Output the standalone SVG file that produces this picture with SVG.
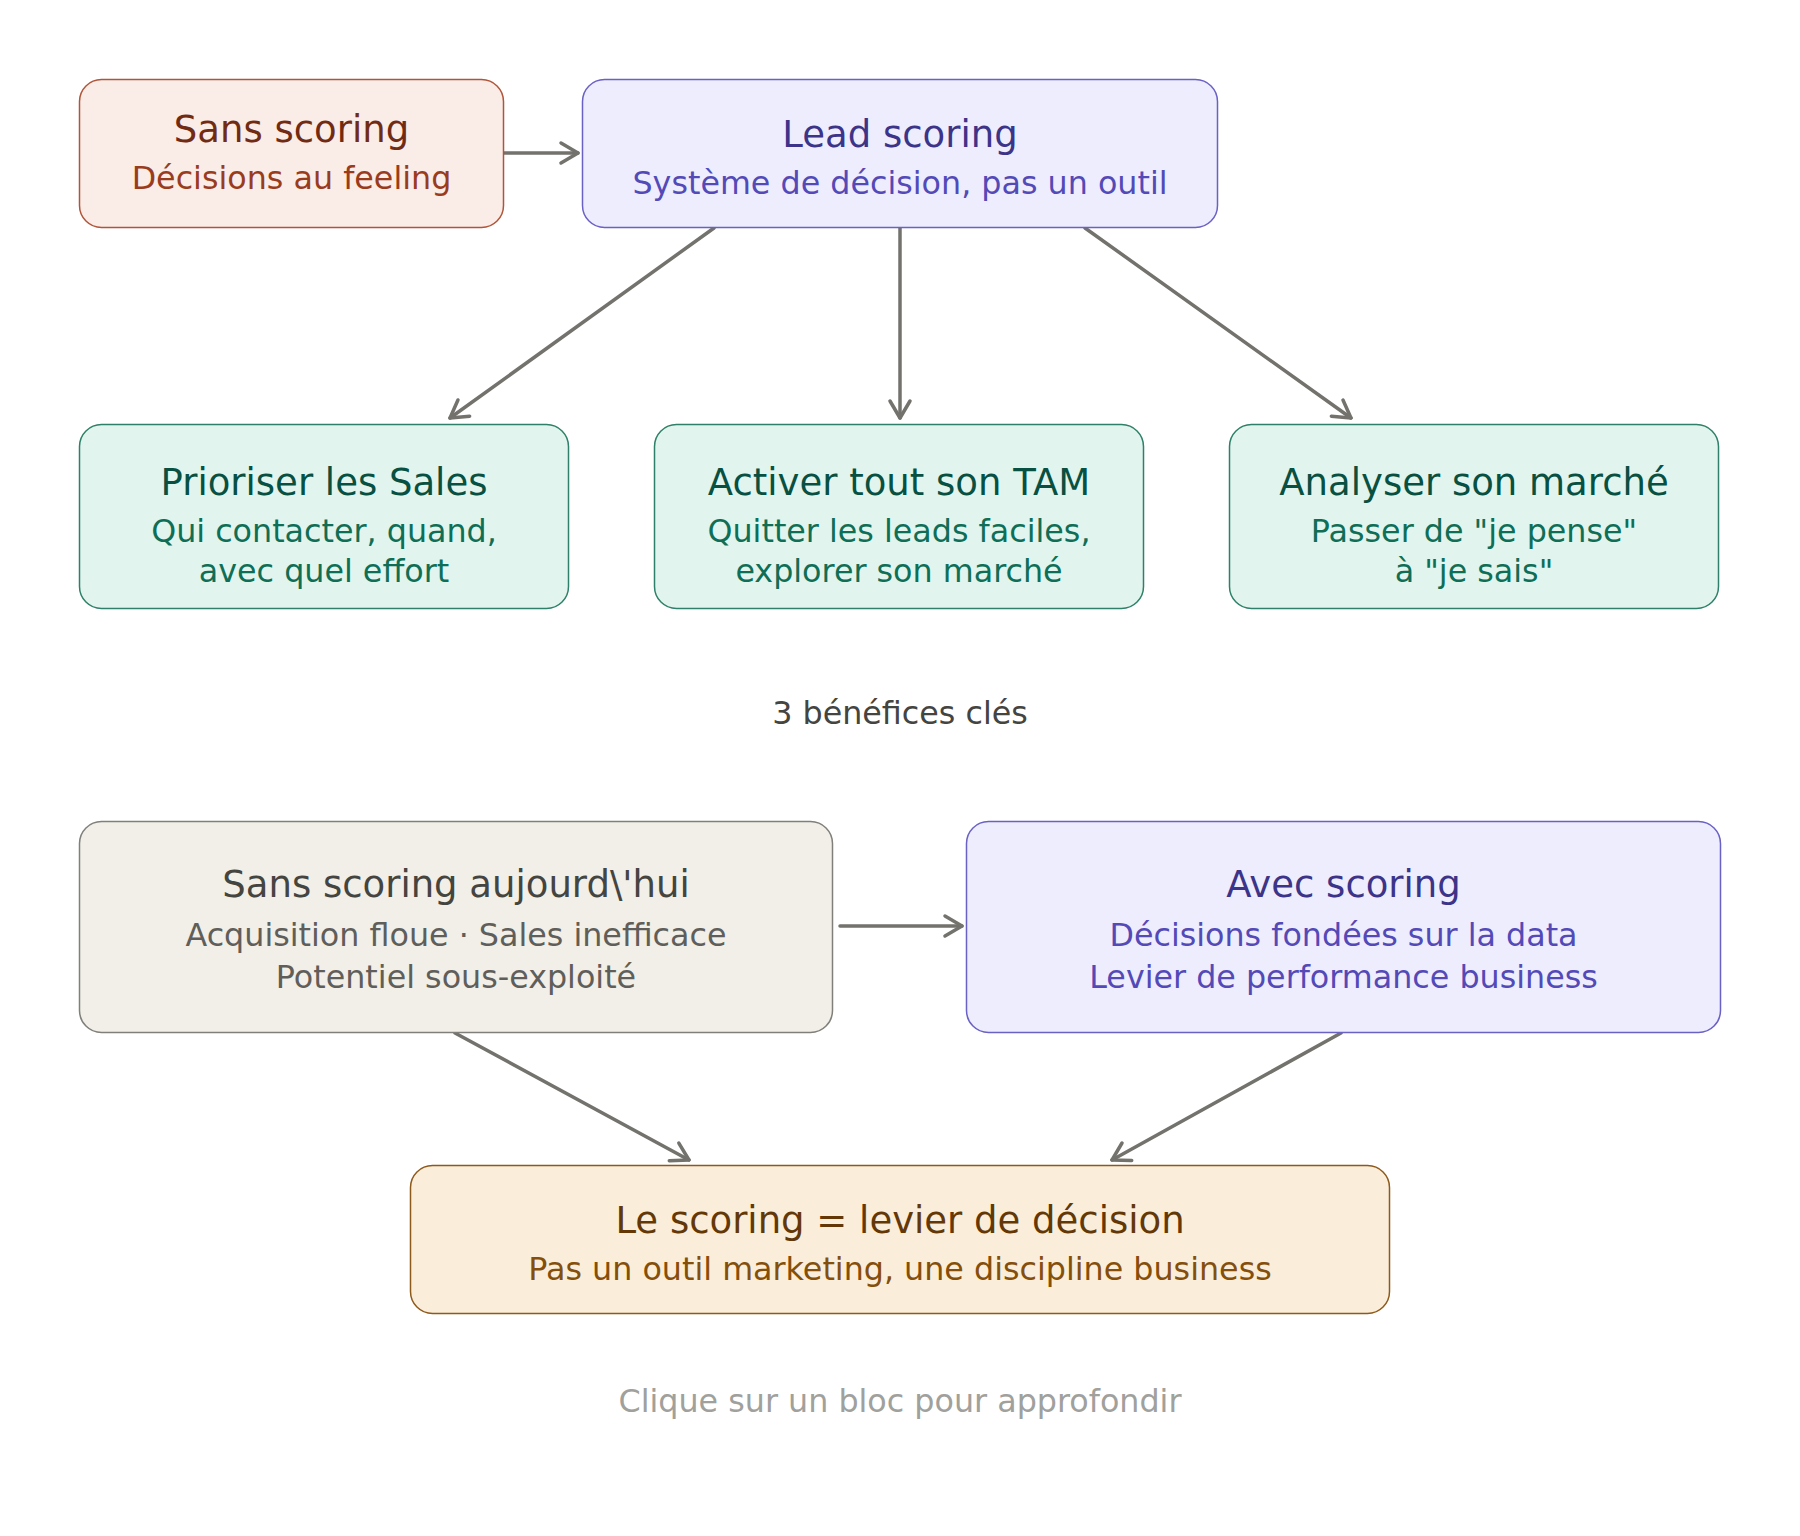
<svg xmlns="http://www.w3.org/2000/svg" width="1800" height="1536" viewBox="0 0 1800 1536">
  <style>
    text { font-family: "DejaVu Sans", "Noto Sans", sans-serif; text-anchor: middle; }
    .t { font-size: 37px; }
    .s { font-size: 31.75px; }
    .box { stroke-width: 1.5; }
    .coral rect { fill: #FAECE7; stroke: #B0553A; }
    .coral .t { fill: #712B13; } .coral .s { fill: #993C1D; }
    .purple rect { fill: #EEEDFE; stroke: #6A61C4; }
    .purple .t { fill: #3C3489; } .purple .s { fill: #534AB7; }
    .green rect { fill: #E1F5EE; stroke: #2E8068; }
    .green .t { fill: #085041; } .green .s { fill: #0F6E56; }
    .gray rect { fill: #F1EFE8; stroke: #807F7A; }
    .gray .t { fill: #444441; } .gray .s { fill: #5F5E5A; }
    .amber rect { fill: #FAEEDA; stroke: #8E5A1C; }
    .amber .t { fill: #633806; } .amber .s { fill: #854F0B; }
    .edge { fill: none; stroke: #73726C; stroke-width: 3.5; stroke-linecap: round; marker-end: url(#arr); }
    .lbl { font-size: 31.75px; fill: #444441; }
    .hint { font-size: 31.75px; fill: #A0A09C; }
  </style>
  <defs>
    <marker id="arr" markerUnits="userSpaceOnUse" viewBox="-22 -14 26 28" markerWidth="26" markerHeight="28" refX="0" refY="0" orient="auto">
      <path d="M-17,-10 L0,0 L-17,10" fill="none" stroke="#73726C" stroke-width="3.5" stroke-linecap="round" stroke-linejoin="round"/>
    </marker>
  </defs>
  <rect width="1800" height="1536" fill="#FFFFFF"/>

  <g id="connectors">
    <line class="edge" x1="504" y1="153" x2="578" y2="153"/>
    <line class="edge" x1="714" y1="228" x2="450" y2="418"/>
    <line class="edge" x1="900" y1="228" x2="900" y2="418"/>
    <line class="edge" x1="1085" y1="228" x2="1351" y2="418"/>
    <line class="edge" x1="840" y1="926" x2="962" y2="926"/>
    <line class="edge" x1="455" y1="1033" x2="689" y2="1160"/>
    <line class="edge" x1="1341" y1="1033" x2="1112" y2="1160"/>
  </g>

  <g id="node-sans-scoring" class="coral">
    <rect class="box" x="79.5" y="79.5" width="424" height="148" rx="22"/>
    <text class="t" x="291.5" y="142">Sans scoring</text>
    <text class="s" x="291.5" y="189">Décisions au feeling</text>
  </g>

  <g id="node-lead-scoring" class="purple">
    <rect class="box" x="582.5" y="79.5" width="635" height="148" rx="22"/>
    <text class="t" x="900" y="147">Lead scoring</text>
    <text class="s" x="900" y="194">Système de décision, pas un outil</text>
  </g>

  <g id="node-prioriser" class="green">
    <rect class="box" x="79.5" y="424.5" width="489" height="184" rx="22"/>
    <text class="t" x="324" y="495">Prioriser les Sales</text>
    <text class="s" x="324" y="542">Qui contacter, quand,</text>
    <text class="s" x="324" y="582">avec quel effort</text>
  </g>

  <g id="node-activer" class="green">
    <rect class="box" x="654.5" y="424.5" width="489" height="184" rx="22"/>
    <text class="t" x="899" y="495">Activer tout son TAM</text>
    <text class="s" x="899" y="542">Quitter les leads faciles,</text>
    <text class="s" x="899" y="582">explorer son marché</text>
  </g>

  <g id="node-analyser" class="green">
    <rect class="box" x="1229.5" y="424.5" width="489" height="184" rx="22"/>
    <text class="t" x="1474" y="495">Analyser son marché</text>
    <text class="s" x="1474" y="542">Passer de "je pense"</text>
    <text class="s" x="1474" y="582">à "je sais"</text>
  </g>

  <g id="label-benefices">
    <text class="lbl" x="900" y="724">3 bénéfices clés</text>
  </g>

  <g id="node-sans-aujourdhui" class="gray">
    <rect class="box" x="79.5" y="821.5" width="753" height="211" rx="22"/>
    <text class="t" x="456" y="897">Sans scoring aujourd\'hui</text>
    <text class="s" x="456" y="946">Acquisition floue · Sales inefficace</text>
    <text class="s" x="456" y="988">Potentiel sous-exploité</text>
  </g>

  <g id="node-avec-scoring" class="purple">
    <rect class="box" x="966.5" y="821.5" width="754" height="211" rx="22"/>
    <text class="t" x="1343.5" y="897">Avec scoring</text>
    <text class="s" x="1343.5" y="946">Décisions fondées sur la data</text>
    <text class="s" x="1343.5" y="988">Levier de performance business</text>
  </g>

  <g id="node-levier" class="amber">
    <rect class="box" x="410.5" y="1165.5" width="979" height="148" rx="22"/>
    <text class="t" x="900" y="1233">Le scoring = levier de décision</text>
    <text class="s" x="900" y="1280">Pas un outil marketing, une discipline business</text>
  </g>

  <g id="label-hint">
    <text class="hint" x="900" y="1412">Clique sur un bloc pour approfondir</text>
  </g>
</svg>
